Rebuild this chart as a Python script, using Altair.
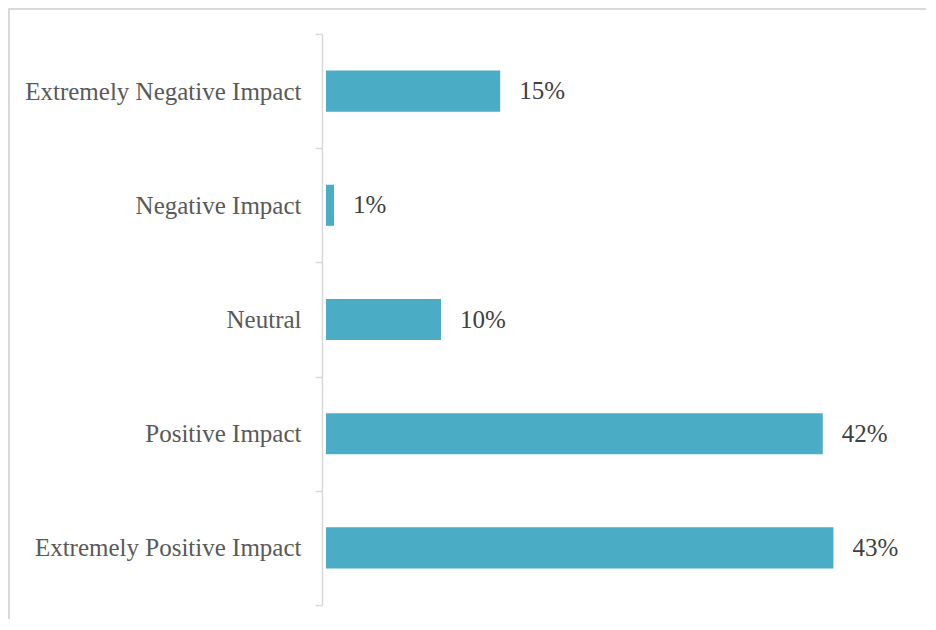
import altair as alt
import pandas as pd

categories = ["Extremely Negative Impact", "Negative Impact", "Neutral",
              "Positive Impact", "Extremely Positive Impact"]
shares = [0.1476, 0.0068, 0.0975, 0.421, 0.430]

df = pd.DataFrame({"cat": categories, "share": shares})

FONT = "Liberation Serif"
GRAY = "#d9d9d9"

y_enc = alt.Y("cat:N", sort=categories, title=None,
              scale=alt.Scale(paddingInner=0, paddingOuter=0),
              axis=alt.Axis(tickBand="extent", offset=4, tickSize=7,
                            tickColor=GRAY, domainColor=GRAY,
                            domainWidth=1.5, tickWidth=1.5,
                            labelFont=FONT, labelFontSize=25,
                            labelColor="#595959", labelPadding=14,
                            labelLimit=400))

x_enc = alt.X("share:Q", title=None,
              scale=alt.Scale(domain=[0, 0.5], nice=False, zero=True),
              axis=None)

bars = alt.Chart(df).mark_bar(color="#4BACC6", height={"band": 0.36}).encode(
    x=x_enc, y=y_enc)

labels = alt.Chart(df).mark_text(align="left", baseline="middle", dx=19,
                                 font=FONT, fontSize=25, color="#404040").encode(
    x=x_enc, y=alt.Y("cat:N", sort=categories),
    text=alt.Text("share:Q", format=".0%"))

one = pd.DataFrame({"a": [0]})
left_border = alt.Chart(one).mark_rule(color=GRAY, strokeWidth=2).encode(
    x=alt.value(-317), y=alt.value(-26), y2=alt.value(620))
top_border = alt.Chart(one).mark_rule(color=GRAY, strokeWidth=2).encode(
    x=alt.value(-318), x2=alt.value(620), y=alt.value(-25))

chart = alt.layer(left_border, top_border, bars, labels).properties(
    width=590, height=571,
    autosize=alt.AutoSizeParams(type="none"),
    padding={"left": 318, "top": 26, "right": 10, "bottom": 14},
).configure_view(stroke=None)

chart.save("out.html", embed_options={"renderer": "svg", "actions": False})
